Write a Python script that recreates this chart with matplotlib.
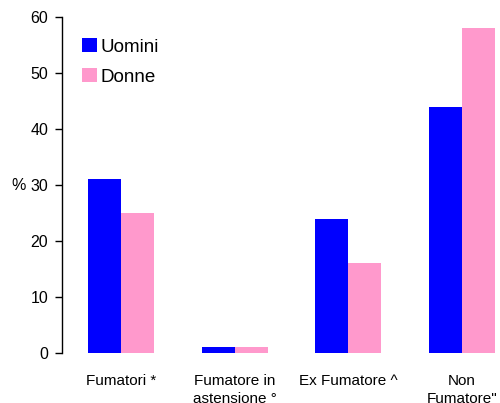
import matplotlib
matplotlib.use("Agg")
import matplotlib.pyplot as plt
import numpy as np

categories = ["Fumatori *", "Fumatore in\nastensione °", "Ex Fumatore ^", "Non\nFumatore\""]
uomini = [31, 1, 24, 44]
donne = [25, 1, 16, 58]
yticks = [0, 10, 20, 30, 40, 50, 60]

plt.rcParams['font.family'] = ['Liberation Sans', 'DejaVu Sans']

fig = plt.figure(figsize=(5.0, 4.03), dpi=100)
ax = fig.add_axes([0.124, 0.124, 0.866, 0.834])

x = np.arange(len(categories))
w = 0.29
ax.bar(x - w/2, uomini, w, color="#0000FF", label="Uomini")
ax.bar(x + w/2, donne, w, color="#FF99CC", label="Donne")

ax.set_xlim(-0.52, 3.29)
ax.set_ylim(0, 60)
ax.set_yticks(yticks)
ax.set_yticklabels([str(t) for t in yticks], fontsize=11.5)
ax.tick_params(axis='y', direction='out', length=5, width=1, pad=5)
ax.set_xticks(x)
ax.set_xticklabels(categories, fontsize=11, linespacing=1.35, va='top')
ax.tick_params(axis='x', length=0, pad=15)
for s in ["top", "right", "bottom"]:
    ax.spines[s].set_visible(False)
ax.spines["left"].set_linewidth(1)

fig.text(18.5/500, 1 - 185/403, "%", fontsize=11.5, ha='center', va='center')

leg = ax.legend(loc="upper left", bbox_to_anchor=(82/500, 1 - 38/403),
                bbox_transform=fig.transFigure, frameon=False,
                fontsize=13.5, handlelength=0.8, handleheight=0.8,
                handletextpad=0.2, labelspacing=0.65, borderaxespad=0, borderpad=0)

fig.savefig("out.png", dpi=100)
